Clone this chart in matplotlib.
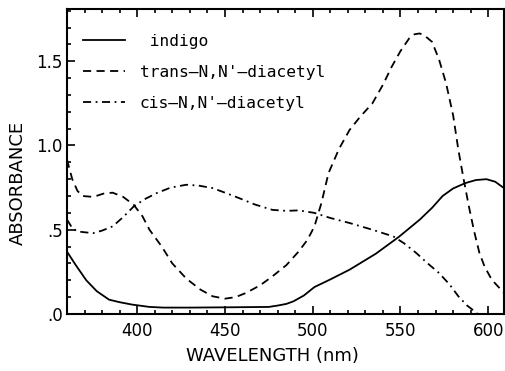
import numpy as np
import matplotlib
matplotlib.use("Agg")
import matplotlib.pyplot as plt
from matplotlib.ticker import MultipleLocator, FuncFormatter

# values (wavelength nm, absorbance)
indigo_x = [360, 365, 371, 377, 384, 390, 397, 407, 415, 430, 455, 475, 480, 485, 489, 495, 501,
            510, 521, 536, 549, 561, 568, 574, 580, 587, 593, 599, 604, 609]
indigo_y = [0.37, 0.29, 0.20, 0.135, 0.085, 0.07, 0.056, 0.042, 0.038, 0.038, 0.040, 0.042, 0.05,
            0.06, 0.075, 0.11, 0.16, 0.205, 0.263, 0.358, 0.457, 0.56, 0.63, 0.70, 0.745, 0.777,
            0.795, 0.80, 0.785, 0.747]

trans_x = [360, 363, 366, 369, 375, 381, 386, 392, 398, 403, 407, 414, 420, 428, 436, 443, 450,
           456, 462, 470, 477, 485, 492, 497, 501, 505, 509, 515, 521, 527, 534, 540, 545, 550,
           555, 558, 561, 564, 568, 572, 576, 580, 583, 586, 589, 592, 595, 598, 602, 609]
trans_y = [0.915, 0.80, 0.73, 0.70, 0.695, 0.715, 0.72, 0.695, 0.648, 0.58, 0.50, 0.40, 0.30,
           0.21, 0.145, 0.105, 0.091, 0.10, 0.125, 0.17, 0.223, 0.29, 0.371, 0.44, 0.52, 0.66,
           0.836, 0.98, 1.092, 1.17, 1.25, 1.36, 1.467, 1.56, 1.636, 1.66, 1.665, 1.65, 1.615,
           1.51, 1.369, 1.18, 0.974, 0.80, 0.638, 0.49, 0.362, 0.28, 0.204, 0.125]

cis_x = [360, 363, 366, 370, 375, 380, 386, 392, 398, 404, 411, 419, 428, 435, 443, 450, 458,
         467, 477, 485, 492, 501, 510, 521, 534, 546, 552, 559, 565, 572, 578, 583, 588, 591, 594]
cis_y = [0.56, 0.51, 0.49, 0.485, 0.48, 0.495, 0.52, 0.575, 0.638, 0.68, 0.717, 0.75, 0.767,
         0.762, 0.747, 0.72, 0.688, 0.65, 0.618, 0.612, 0.615, 0.60, 0.57, 0.54, 0.50, 0.46,
         0.42, 0.362, 0.305, 0.243, 0.175, 0.105, 0.05, 0.026, 0.0]

labels = [" indigo", "trans\u2013N,N'\u2013diacetyl", "cis\u2013N,N'\u2013diacetyl"]

fig = plt.figure(figsize=(5.05, 3.71), dpi=100)
ax = fig.add_axes([67 / 505, 57 / 371, 437 / 505, 305 / 371])

ax.plot(indigo_x, indigo_y, color="black", lw=1.3, label=labels[0])
ax.plot(trans_x, trans_y, color="black", lw=1.3, linestyle=(0, (4.5, 3)), label=labels[1])
ax.plot(cis_x, cis_y, color="black", lw=1.3, linestyle=(0, (4.5, 2.5, 1, 2.5)), label=labels[2])

ax.set_xlim(360, 609)
ax.set_ylim(0, 1.81)

ax.xaxis.set_major_locator(MultipleLocator(50))
ax.xaxis.set_minor_locator(MultipleLocator(10))
ax.yaxis.set_major_locator(MultipleLocator(0.5))
ax.yaxis.set_minor_locator(MultipleLocator(0.1))


def yfmt(v, pos):
    s = "%.1f" % v
    return s[1:] if s.startswith("0") else s


ax.yaxis.set_major_formatter(FuncFormatter(yfmt))

ax.tick_params(which="both", direction="in", top=True, right=False, width=1.2)
ax.tick_params(which="major", length=6, labelsize=12)
ax.tick_params(which="minor", length=3)
ax.tick_params(axis="x", pad=6)
ax.tick_params(axis="y", pad=3)
for s in ax.spines.values():
    s.set_linewidth(1.5)

ax.set_xlabel("WAVELENGTH (nm)", fontsize=13)
ax.set_ylabel("ABSORBANCE", fontsize=13)
ax.xaxis.set_label_coords(0.469, -0.108)
ax.yaxis.set_label_coords(-0.092, 0.43)

ax.legend(loc="upper left", bbox_to_anchor=(0.01, 0.955), frameon=False,
          prop={"family": "DejaVu Sans Mono", "size": 11.7},
          handlelength=2.6, handletextpad=0.9, labelspacing=0.97, borderpad=0.2)

fig.savefig("out.png", dpi=100)
